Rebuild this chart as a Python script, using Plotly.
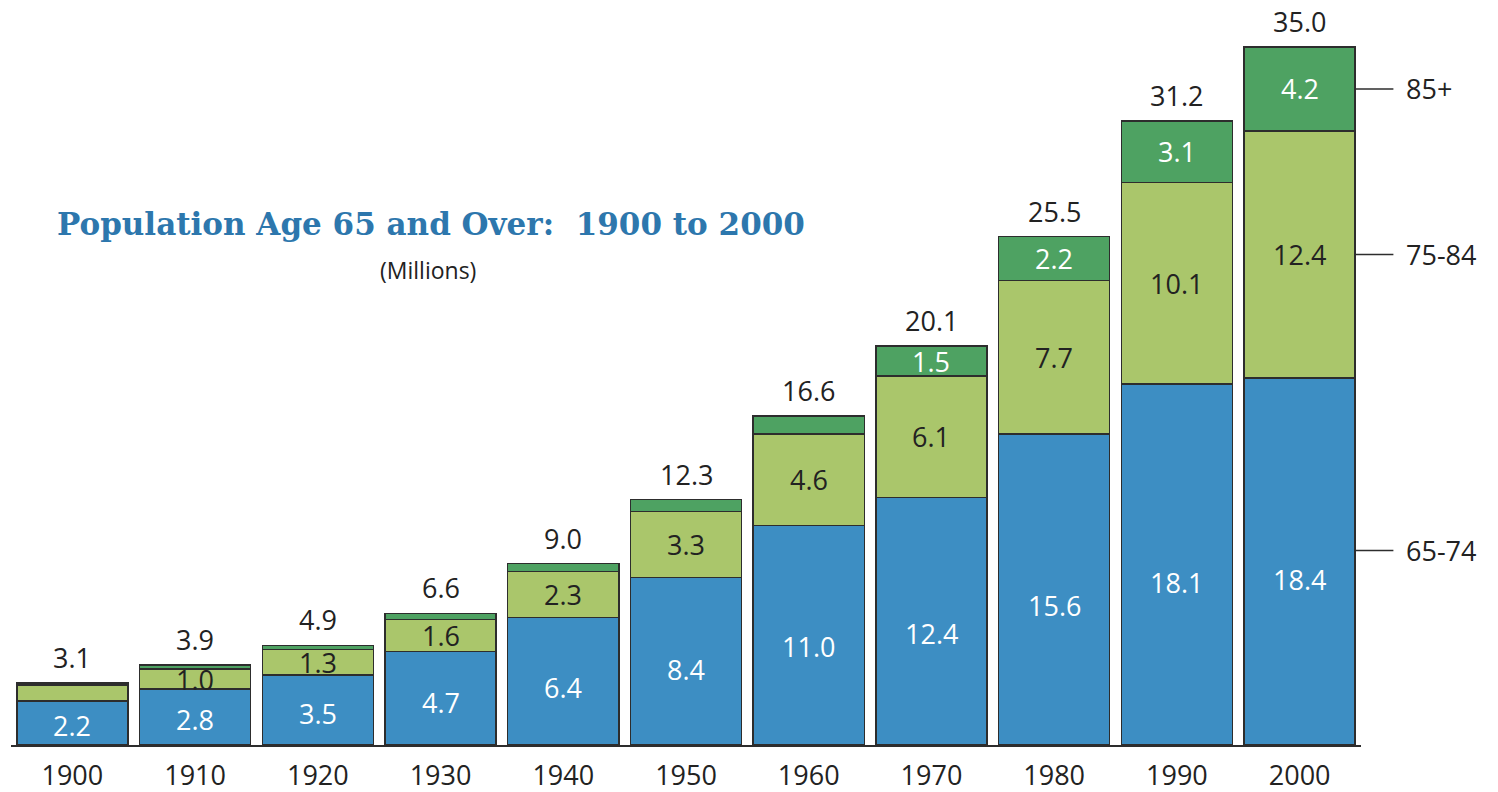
import plotly.graph_objects as go

years = ["1900", "1910", "1920", "1930", "1940", "1950", "1960", "1970", "1980", "1990", "2000"]
age_65_74 = [2.2, 2.8, 3.5, 4.7, 6.4, 8.4, 11.0, 12.4, 15.6, 18.1, 18.4]
age_75_84 = [0.8, 1.0, 1.3, 1.6, 2.3, 3.3, 4.6, 6.1, 7.7, 10.1, 12.4]
age_85_plus = [0.1, 0.2, 0.2, 0.3, 0.4, 0.6, 0.9, 1.5, 2.2, 3.1, 4.2]
totals = [3.1, 3.9, 4.9, 6.6, 9.0, 12.3, 16.6, 20.1, 25.5, 31.2, 35.0]

# which segment labels are printed in the original
show_75_84 = [False] + [True] * 10
show_85_plus = [False] * 7 + [True] * 4
group_names = ["65-74", "75-84", "85+"]

BLUE = "#3d8ec3"
LIGHT = "#aac66b"
DARK = "#4ea262"
EDGE = "#2d2d2d"
FONT = "Open Sans"
FS = 27

fig = go.Figure()
for vals, color, name in [(age_65_74, BLUE, group_names[0]),
                          (age_75_84, LIGHT, group_names[1]),
                          (age_85_plus, DARK, group_names[2])]:
    fig.add_trace(go.Bar(
        x=years, y=vals, name=name,
        marker={"color": color, "line": {"color": EDGE, "width": 1.5}},
        hoverinfo="x+y+name",
    ))

# annotations on a category axis take the category index as x
annotations = []
for i, yr in enumerate(years):
    a, b, c = age_65_74[i], age_75_84[i], age_85_plus[i]
    annotations.append(dict(x=i, y=a * 0.45, text=f"{a:.1f}", showarrow=False,
                            font={"color": "white", "size": FS, "family": FONT}))
    if show_75_84[i]:
        annotations.append(dict(x=i, y=a + b / 2, text=f"{b:.1f}", showarrow=False,
                                font={"color": "#222", "size": FS, "family": FONT}))
    if show_85_plus[i]:
        annotations.append(dict(x=i, y=a + b + c / 2, text=f"{c:.1f}", showarrow=False,
                                font={"color": "white", "size": FS, "family": FONT}))
    # tight box so the tallest total stays inside the page
    annotations.append(dict(x=i, y=a + b + c, text=f"{totals[i]:.1f}", showarrow=False,
                            yanchor="bottom", yshift=12, height=26, borderpad=0,
                            font={"color": "#222", "size": FS, "family": FONT}))

# right-side group labels, tied to the last bar
last = len(years) - 1
label_y = [age_65_74[last] * 0.53,
           age_65_74[last] + age_75_84[last] / 2,
           age_65_74[last] + age_75_84[last] + age_85_plus[last] / 2]
shapes = []
for name, yv in zip(group_names, label_y):
    shapes.append(dict(type="line", xref="paper", yref="y", x0=0.9956, x1=1.024,
                       y0=yv, y1=yv, line={"color": EDGE, "width": 1.5}))
    annotations.append(dict(xref="paper", x=1.032, y=yv, text=name, showarrow=False,
                            xanchor="left", font={"color": "#222", "size": FS, "family": FONT}))

annotations.append(dict(xref="paper", yref="paper", x=0.0326, y=0.707, xanchor="left",
                        yanchor="middle",
                        text="<b>Population Age 65 and Over:  1900 to 2000</b>", showarrow=False,
                        font={"color": "#2d77ad", "size": 31, "family": "DejaVu Serif"}))
annotations.append(dict(xref="paper", yref="paper", x=0.309, y=0.645,
                        xanchor="center", yanchor="middle",
                        text="(Millions)", showarrow=False,
                        font={"color": "#222", "size": 23, "family": FONT}))

fig.update_layout(
    barmode="stack",
    bargap=0.095,
    width=1498, height=792,
    margin={"l": 3, "r": 145, "t": 0, "b": 55},
    plot_bgcolor="white", paper_bgcolor="white",
    showlegend=False,
    annotations=annotations,
    shapes=shapes,
    xaxis={"type": "category", "range": [-0.5, len(years) - 0.5],
           "showline": True, "linecolor": EDGE, "linewidth": 2,
           "ticks": "", "ticklabelstandoff": 6,
           "tickfont": {"size": FS, "family": FONT, "color": "#222"}},
    yaxis={"range": [0, 36.96], "visible": False},
)

fig.write_html("out.html")
